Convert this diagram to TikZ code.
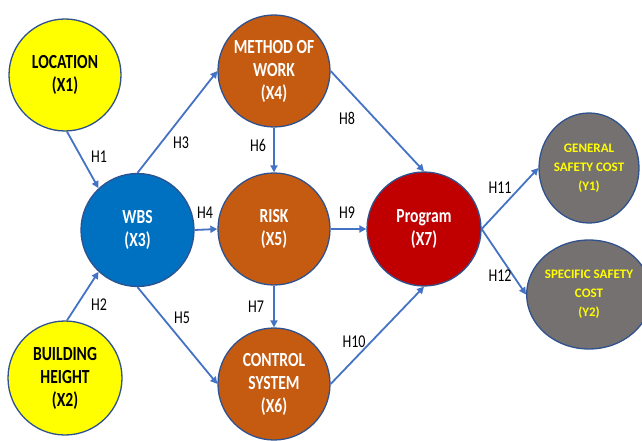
\documentclass[tikz,border=0pt]{standalone}
\usepackage{fontspec}
\setmainfont{Carlito}[FakeStretch=0.78]
\newfontfamily\grayfont{Carlito}
\usetikzlibrary{arrows.meta,shapes.geometric}
\definecolor{cyel}{HTML}{FFFF00}
\definecolor{cblue}{HTML}{0070C0}
\definecolor{corange}{HTML}{C55A11}
\definecolor{cred}{HTML}{C00000}
\definecolor{cgray}{HTML}{767171}
\definecolor{cborder}{HTML}{2F528F}
\definecolor{carrow}{HTML}{4472C4}
\begin{document}
\begin{tikzpicture}[x=1pt,y=-1pt,
  var/.style={circle,draw=cborder,line width=1.3pt,inner sep=0pt,align=center,
    font=\fontsize{20}{23}\selectfont\bfseries},
  yel/.style={var,fill=cyel,text=black},
  blu/.style={var,fill=cblue,text=white},
  ora/.style={var,fill=corange,text=white},
  rd/.style={var,fill=cred,text=white},
  gry/.style={var,ellipse,fill=cgray,text=cyel,font=\grayfont\fontsize{13}{19}\selectfont\bfseries},
  arr/.style={draw=carrow,line width=1.8pt,-{Triangle[length=7pt,width=7pt]}},
  hl/.style={font=\fontsize{18}{18}\selectfont,text=black,inner sep=0pt}]
\useasboundingbox (0,0) rectangle (642,441);
\node[yel,minimum size=112pt] (x1) at (65,75) {LOCATION\\(X1)};
\node[yel,minimum size=114pt] (x2) at (65,378) {BUILDING\\HEIGHT\\(X2)};
\node[blu,minimum size=113pt] (x3) at (137.5,230) {WBS\\(X3)};
\node[ora,minimum size=112pt] (x4) at (274,71) {METHOD OF\\WORK\\(X4)};
\node[ora,minimum size=112pt] (x5) at (274,229) {RISK\\(X5)};
\node[ora,minimum size=112pt] (x6) at (274,384) {CONTROL\\SYSTEM\\(X6)};
\node[rd,minimum size=114pt] (x7) at (424,229) {Program\\(X7)};
\node[gry,minimum width=100pt,minimum height=110pt] (y1) at (589,168) {GENERAL\\SAFETY COST\\(Y1)};
\node[gry,minimum width=100pt,minimum height=109pt] (y2) at (589,294.5) {SPECIFIC SAFETY\\COST\\(Y2)};
\draw[arr] (x1.-88) -- (x3.133);
\draw[arr] (x2.88) -- (x3.227);
\draw[arr] (x3.north) -- (x4.west);
\draw[arr] (x3.east) -- (x5.west);
\draw[arr] (x3.south) -- (x6.west);
\draw[arr] (x4.south) -- (x5.north);
\draw[arr] (x5.south) -- (x6.north);
\draw[arr] (x4.east) -- (x7.north);
\draw[arr] (x5.east) -- (x7.west);
\draw[arr] (x6.east) -- (x7.south);
\draw[arr] (x7.east) -- (y1.west);
\draw[arr] (x7.east) -- (y2.west);
\node[hl] (h1) at (99,157) {H1};
\node[hl] (h2) at (99,305) {H2};
\node[hl] (h3) at (181,143) {H3};
\node[hl] (h4) at (205,213) {H4};
\node[hl] (h5) at (182,318) {H5};
\node[hl] (h6) at (258,145) {H6};
\node[hl] (h7) at (256,307) {H7};
\node[hl] (h8) at (347,118) {H8};
\node[hl] (h9) at (347,213) {H9};
\node[hl] (h10) at (354,342) {H10};
\node[hl] (h11) at (500,188) {H11};
\node[hl] (h12) at (500,276) {H12};
\end{tikzpicture}
\end{document}
